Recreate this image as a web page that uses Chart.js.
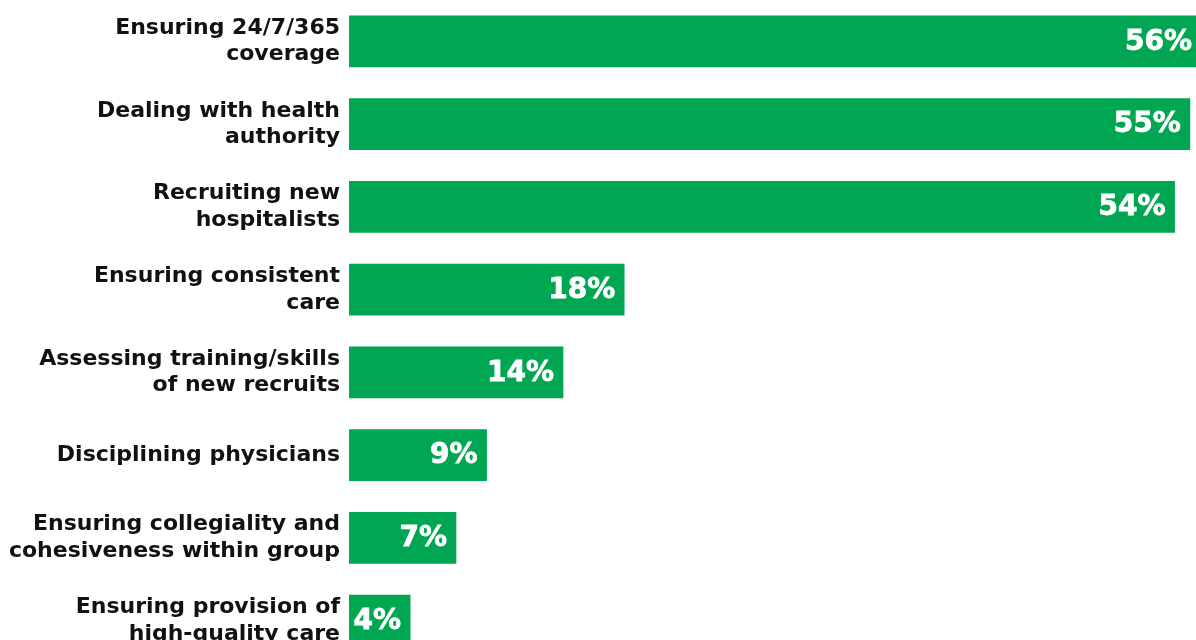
<!DOCTYPE html>
<html>
<head>
<meta charset="utf-8">
<script src="https://cdn.jsdelivr.net/npm/chart.js@4/dist/chart.umd.min.js"></script>
<style>
  html, body { margin: 0; padding: 0; background: #fff; overflow: hidden; }
  #wrap { position: relative; width: 1196px; height: 662px; }
</style>
</head>
<body>
<div id="wrap"><canvas id="retos"></canvas></div>
<script>
// Principales retos del programa de hospitalistas (% de respuestas)
var categorias = [
  ['Ensuring 24/7/365', 'coverage'],
  ['Dealing with health', 'authority'],
  ['Recruiting new', 'hospitalists'],
  ['Ensuring consistent', 'care'],
  ['Assessing training/skills', 'of new recruits'],
  'Disciplining physicians',
  ['Ensuring collegiality and', 'cohesiveness within group'],
  ['Ensuring provision of', 'high-quality care']
];
var valores = [56, 55, 54, 18, 14, 9, 7, 4];
var etiquetas = ['56%', '55%', '54%', '18%', '14%', '9%', '7%', '4%'];

var verde = '#00A651';
var fuente = '"DejaVu Sans", Inter, sans-serif';
var xMax = 55.4;

// escribe el porcentaje dentro de cada barra, alineado a la derecha
var etiquetasBarras = {
  id: 'etiquetasBarras',
  afterDatasetsDraw: function (chart) {
    var ctx = chart.ctx;
    var area = chart.chartArea;
    var meta = chart.getDatasetMeta(0);
    ctx.save();
    ctx.fillStyle = '#ffffff';
    ctx.strokeStyle = '#ffffff';
    ctx.lineWidth = 0.8;
    ctx.font = 'bold 28px ' + fuente;
    ctx.textAlign = 'right';
    ctx.textBaseline = 'middle';
    meta.data.forEach(function (bar, i) {
      var fin = Math.min(bar.x, area.right + 5);
      ctx.fillText(etiquetas[i], fin - 9, bar.y + 1);
      ctx.strokeText(etiquetas[i], fin - 9, bar.y + 1);
    });
    ctx.restore();
  }
};

const ctx = document.getElementById('retos');
var retos = new Chart(ctx, {
  type: 'bar',
  data: {
    labels: categorias,
    datasets: [{
      data: valores,
      backgroundColor: verde,
      borderWidth: 0,
      barThickness: 51
    }]
  },
  options: {
    indexAxis: 'y',
    responsive: true,
    maintainAspectRatio: false,
    animation: false,
    layout: { padding: 0 },
    plugins: {
      legend: { display: false },
      tooltip: { enabled: false }
    },
    scales: {
      x: {
        display: false,
        min: 0,
        max: xMax
      },
      y: {
        grid: { display: false, drawTicks: false },
        border: { display: false },
        afterFit: function (scale) {
          scale.width = 349;
          scale.paddingTop = 0;
          scale.paddingBottom = 0;
        },
        ticks: {
          color: '#111111',
          padding: 9,
          font: { family: fuente, size: 22, weight: 'bold', lineHeight: 1.2 }
        }
      }
    }
  },
  plugins: [etiquetasBarras]
});
</script>
</body>
</html>
